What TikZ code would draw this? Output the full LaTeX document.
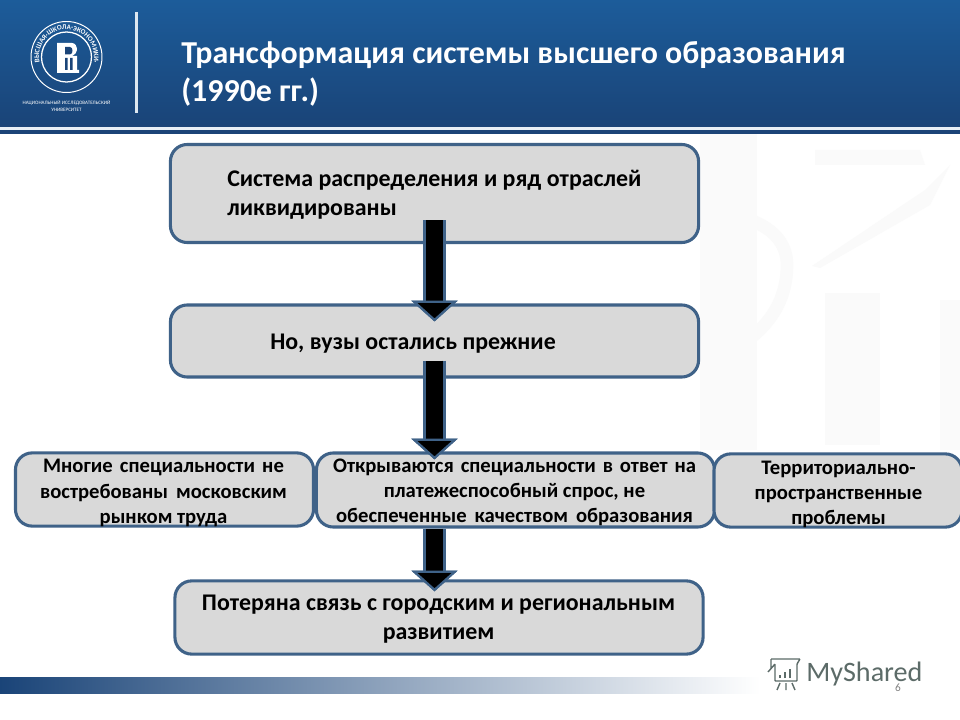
\documentclass[tikz,border=0pt]{standalone}
\usepackage{fontspec}
\setmainfont{Carlito}
\usetikzlibrary{arrows.meta,calc,decorations.text}
\definecolor{boxgray}{HTML}{D9D9D9}
\definecolor{boxline}{HTML}{3F6288}
\definecolor{headtop}{HTML}{1C5C9A}
\definecolor{headlow}{HTML}{1A4478}
\definecolor{stripe}{HTML}{1C4477}
\definecolor{markgray}{HTML}{5C6B68}
\definecolor{faint}{HTML}{FAFAFA}
\newcommand{\bodytext}{\fontsize{17}{20.6}\bfseries\selectfont}
\newcommand{\smalltext}{\fontsize{14.7}{18}\bfseries\selectfont}
\newcommand{\wideline}[2]{\makebox[#1][s]{#2}}
\tikzset{
	box/.style={draw=boxline,fill=boxgray,line width=2.2pt,rounded corners=0.42cm,inner sep=0pt},
	boxtext/.style={font=\bodytext,text=black,inner sep=0pt,align=left},
	sidetext/.style={font=\smalltext,text=black,inner sep=0pt,align=center},
	blockarrow/.style={line width=0.42cm,draw=black,
		preaction={draw=boxline,line width=0.56cm},
		-{Triangle[length=0.52cm,width=1.15cm,fill=black,color=boxline,line width=1.6pt]}}
}
\begin{document}
\begin{tikzpicture}[x=0.025cm,y=-0.025cm]
	\useasboundingbox (0,0) rectangle (960,720);
	% Background
	\fill[white] (0,0) rectangle (960,720);
	\fill[faint] (700,134) rectangle (757,450);
	\fill[faint] (825,293) rectangle (880,445);
	\fill[faint] (940,300) rectangle (960,450);
	\fill[faint] (815,150) -- (920,150) -- (925,165) -- (815,165) -- cycle;
	\fill[faint] (812,266) -- (925,190) -- (950,165) -- (930,205) -- (820,268) -- cycle;
	\draw[faint,line width=9pt] (700,212) to[out=0,in=90] (787,265) to[out=-90,in=20] (700,365);
	% Header
	\fill[top color=headtop,bottom color=headlow] (0,0) rectangle (960,125);
	\fill[stripe] (0,125) rectangle (960,134);
	\fill[white!90!headtop] (0,127) rectangle (960,130);
	\draw[white!85!headtop,line width=1.8pt] (136.5,12)--(136.5,113);
	\node[anchor=west,inner sep=0pt,text=white,align=left,font=\fontsize{22.7}{27}\bfseries\selectfont] (title) at (181,74)
		{Трансформация системы высшего образования\\(1990е гг.)};
	% Logo
	\coordinate (L) at (66.5,57);
	\draw[white,line width=0.7pt] (L) circle (35.5);
	\draw[white,line width=0.9pt] (L) circle (25);
	\path[postaction={decorate},decoration={text along path,text align={align=fit to path},
		text={|\fontsize{5}{5}\bfseries\selectfont\color{white}|ВЫСШАЯ·ШКОЛА·ЭКОНОМИКИ·}}]
		(66.5,84.5) arc[start angle=90,end angle=450,radius=27.5];
	\fill[white] (57,43) -- (72,43) to[out=0,in=90] (77,50) to[out=-90,in=30] (72,56)
		-- (77,56) -- (77,70) -- (79,70) -- (79,73) -- (57,73) -- cycle;
	\fill[headlow] (65,47) -- (70,47) to[out=0,in=90] (72.5,50.5) to[out=-90,in=0] (70,54.5) -- (65,54.5) -- cycle
		(65,58) rectangle (67.5,70) (70,58) rectangle (72.5,70);
	\node[inner sep=0pt,text=white,align=center,font=\fontsize{3.6}{4.4}\selectfont] (hse) at (66.5,106)
		{НАЦИОНАЛЬНЫЙ ИССЛЕДОВАТЕЛЬСКИЙ\\УНИВЕРСИТЕТ};
	% Boxes
	\node[box,minimum width=13.2cm,minimum height=2.45cm] (sys) at (434.5,193.5) {};
	\node[box,minimum width=13.2cm,minimum height=1.8cm] (vuz) at (434.5,341) {};
	\node[box,minimum width=7.45cm,minimum height=1.83cm] (left) at (164.5,489.5) {};
	\node[box,minimum width=9.95cm,minimum height=1.85cm] (mid) at (515.5,490) {};
	\node[box,minimum width=6.2cm,minimum height=1.83cm] (right) at (838,490.5) {};
	\node[box,minimum width=13.2cm,minimum height=1.83cm] (lost) at (439,617.5) {};
	% Box texts
	\node[boxtext,anchor=west] (sysT) at (227,194.5) {Система распределения и ряд отраслей\\ликвидированы};
	\node[boxtext] (vuzT) at (413,343.5) {Но, вузы остались прежние};
	\node[sidetext] (leftT) at (163.5,493)
		{\wideline{6.02cm}{Многие специальности не}\\\wideline{6.17cm}{востребованы московским}\\рынком труда};
	\node[sidetext] (midT) at (514.5,492.5)
		{\wideline{9.07cm}{Открываются специальности в ответ на}\\платежеспособный спрос, не\\\wideline{8.92cm}{обеспеченные качеством образования}};
	\node[sidetext] (rightT) at (838.5,494.5) {Территориально-\\пространственные\\проблемы};
	\node[boxtext,align=center] (lostT) at (438.5,619.5) {Потеряна связь с городским и региональным\\развитием};
	% Arrows
	\draw[blockarrow,shorten <=-0.6cm,shorten >=-0.45cm] (sys.south) -- (vuz.north);
	\draw[blockarrow,shorten <=-0.45cm,shorten >=-0.2cm] (vuz.south) -- (vuz.south |- mid.north);
	\draw[blockarrow,shorten >=-0.3cm] (vuz.south |- mid.south) -- (vuz.south |- lost.north);
	% Bottom strip
	\fill[left color=headlow,right color=white] (0,677) rectangle (760,693);
	% Watermark
	\node[anchor=west,inner sep=0pt,text=markgray,font=\fontsize{20}{21}\selectfont] (mark) at (806,674) {MyShared};
	\draw[markgray,line width=1pt,rounded corners=0.5pt] (771,659)--(800,659)--(797,664)--(797,681)--(775,681)--(775,664)--(768,672) (771,659)--(771,668);
	\foreach \x/\h in {780/3,785/6,790/9}{
			\draw[markgray,line width=1.5pt] (\x,678)--++(0,-\h);
		}
	\draw[markgray,line width=1pt] (780,683)--(777,690) (786,683)--(786,690) (792,683)--(795,690);
	\node[inner sep=0pt,text=gray,font=\fontsize{8}{9}\selectfont] (page) at (898,688) {6};
\end{tikzpicture}
\end{document}
